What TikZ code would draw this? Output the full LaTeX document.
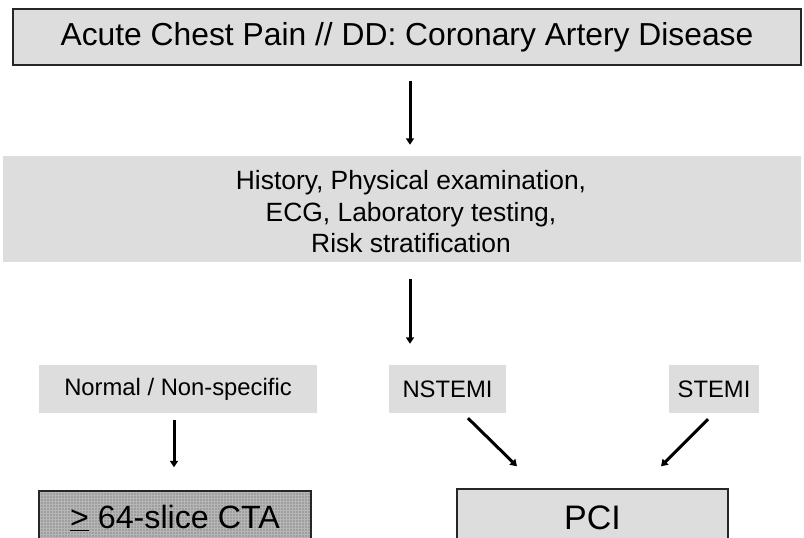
\documentclass[tikz,border=0pt]{standalone}
\usepackage{fontspec}
\setmainfont{Liberation Sans}
\usetikzlibrary{arrows.meta,calc}
\definecolor{boxgray}{RGB}{221,221,221}
\definecolor{ctagray}{RGB}{158,158,158}
\definecolor{ctagrid}{RGB}{182,182,182}
\begin{document}
\begin{tikzpicture}[x=1pt,y=-1pt,
  lbox/.style={fill=boxgray, inner sep=0pt, align=center},
  bbox/.style={lbox, draw=black!85, line width=1.4pt},
  rowtext/.style={font=\fontsize{23.8}{28}\selectfont},
  arr/.style={line width=3pt, -{Triangle[length=6.5pt,width=8pt]}}]
\useasboundingbox (0,0) rectangle (804,538);
\clip (0,0) rectangle (804,538);
\node[bbox, minimum width=788pt, minimum height=56pt,
      font=\fontsize{31.8}{36}\selectfont] (top) at (407,37)
  {Acute Chest Pain // DD: Coronary Artery Disease};
\node[lbox, minimum width=798pt, minimum height=106pt] (mid) at (402,209) {};
\node[align=center, inner sep=0pt, font=\fontsize{26.4}{31.5}\selectfont]
  (midtext) at (411,212)
  {History, Physical examination,\\ ECG, Laboratory testing,\\ Risk stratification};
\node[lbox, rowtext, minimum width=278pt, minimum height=48pt] (norm) at (178,389) {Normal / Non-specific};
\node[lbox, rowtext, minimum width=117pt, minimum height=48pt] (nst) at (447.5,389) {NSTEMI};
\node[lbox, rowtext, minimum width=90pt, minimum height=48pt] (st) at (714,389) {STEMI};
\node[bbox, fill=ctagray, minimum width=272pt, minimum height=54pt,
      font=\fontsize{32.2}{36}\selectfont,
      path picture={\draw[ctagrid, line width=0.4pt]
        (path picture bounding box.south west) grid[step=3pt]
        (path picture bounding box.north east);}] (cta) at (175,518)
  {\underline{>} 64-slice CTA};
\node[bbox, minimum width=271pt, minimum height=58pt,
      font=\fontsize{34}{40}\selectfont] (pci) at (592.5,518) {PCI};
\coordinate (c410) at (410,0);
\draw[arr] ($(top.south -| c410)+(0,15)$) -- ($(mid.north -| c410)+(0,-11)$);
\draw[arr] ($(mid.south -| c410)+(0,17)$) -- ($(norm.north -| c410)+(0,-21)$);
\draw[arr] ($(norm.south)+(-4,7)$) -- ($(cta.north)+(-1,-23)$);
\draw[arr] ($(nst.south)+(20.5,5)$) -- ($(pci.north)+(-75.5,-22)$);
\draw[arr] ($(st.south)+(-6,6)$) -- ($(pci.north)+(68.5,-22)$);
\end{tikzpicture}
\end{document}
